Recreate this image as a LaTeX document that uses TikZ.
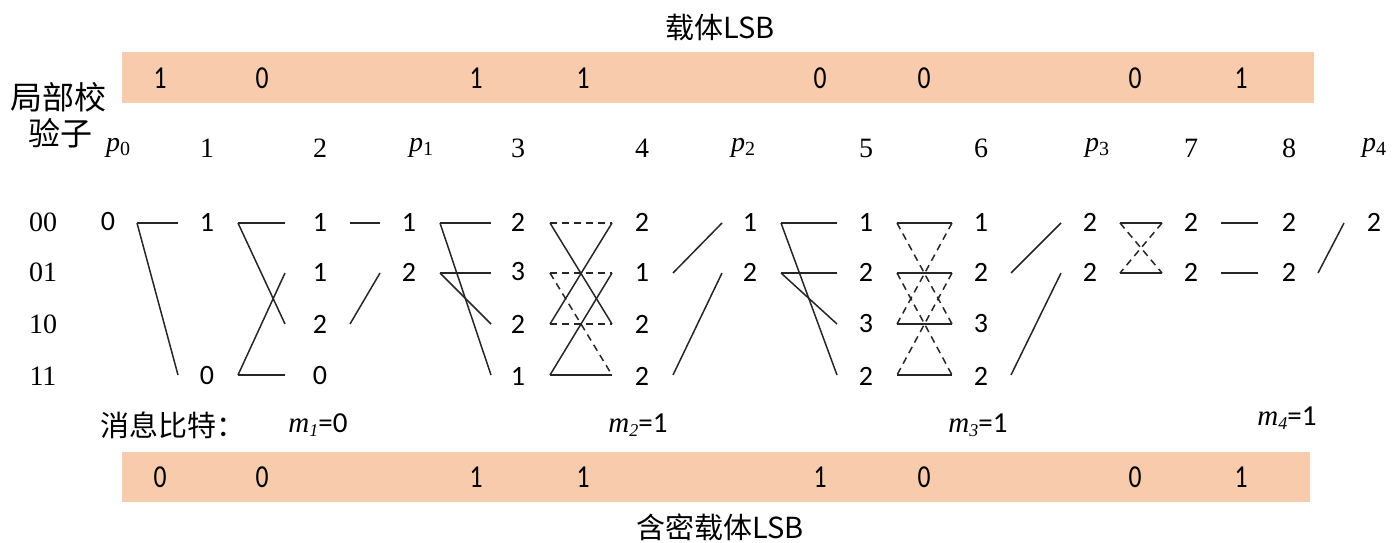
\documentclass[tikz,border=0pt]{standalone}
\usepackage{fontspec}
\setmainfont{Carlito}
\newfontfamily\cjk{Noto Sans CJK SC}
\newfontfamily\serifrow{Liberation Serif}
\newcommand{\pp}[1]{{\itshape p}\raisebox{-0.3ex}{\fontsize{20}{20}\selectfont #1}}
\newcommand{\mm}[2]{{\serifrow\itshape m}\raisebox{-0.3ex}{\fontsize{18}{18}\selectfont\serifrow\itshape #1}=#2}
\begin{document}
\begin{tikzpicture}[x=1pt,y=-1pt,
  edge/.style={line width=1.5pt,black!85},
  dedge/.style={edge,dash pattern=on 7pt off 5pt},
  val/.style={font=\fontsize{28}{28}\selectfont,inner sep=0pt,anchor=center},
  hdr/.style={font=\serifrow\fontsize{28}{28}\selectfont,inner sep=0pt,anchor=center},
  rowlab/.style={font=\serifrow\fontsize{28}{28}\selectfont,inner sep=0pt},
  bardig/.style={font=\fontsize{32}{32}\selectfont,inner sep=0pt,xscale=0.8},
  cjktext/.style={font=\cjk\fontsize{29}{29}\selectfont,inner sep=0pt},
  msg/.style={font=\fontsize{29}{29}\selectfont,inner sep=0pt}]
\definecolor{peach}{HTML}{F8CBAD}
\path[use as bounding box] (0,0) rectangle (1394,543);
% bars
\fill[peach] (122,52) rectangle (1314,103);
\fill[peach] (122,452) rectangle (1310,502);
\node[cjktext] (t1) at (720,27) {载体LSB};
\node[cjktext] (t2) at (720,527) {含密载体LSB};
\foreach \x/\d [count=\i] in {160/1,262/0,476/1,583/1,820/0,924/0,1135/0,1241/1}
  \node[bardig] (tb\i) at (\x,78) {\d};
\foreach \x/\d [count=\i] in {160/0,262/0,476/1,583/1,820/1,924/0,1135/0,1241/1}
  \node[bardig] (bb\i) at (\x,477) {\d};
% left label
\node[cjktext,font=\cjk\fontsize{32}{32}\selectfont] (lab1) at (58,97) {局部校};
\node[cjktext,font=\cjk\fontsize{32}{32}\selectfont] (lab2) at (60,133) {验子};
% headers
\foreach \x/\t [count=\i] in {118/\pp{0},207/1,320/2,421/\pp{1},518/3,642/4,743/\pp{2},866/5,981/6,1097/\pp{3},1191/7,1289/8,1374/\pp{4}}
  \node[hdr] (h\i) at (\x,148) {\t};
% row labels
\foreach \y/\t [count=\i] in {222/00,272/01,324/10,376/11}
  \node[rowlab] (r\i) at (43,\y) {\t};
% values
\foreach \x/\y/\v/\n in {
  108/222/0/v0a,
  207/222/1/v1a, 207/376/0/v1d,
  320/222/1/v2a, 320/272/1/v2b, 320/324/2/v2c, 320/376/0/v2d,
  409/222/1/vp1a, 409/272/2/vp1b,
  518/222/2/v3a, 518/272/3/v3b, 518/324/2/v3c, 518/376/1/v3d,
  642/222/2/v4a, 642/272/1/v4b, 642/324/2/v4c, 642/376/2/v4d,
  750/222/1/vp2a, 750/272/2/vp2b,
  866/222/1/v5a, 866/272/2/v5b, 866/324/3/v5c, 866/376/2/v5d,
  981/222/1/v6a, 981/272/2/v6b, 981/324/3/v6c, 981/376/2/v6d,
  1090/222/2/vp3a, 1090/272/2/vp3b,
  1191/222/2/v7a, 1191/272/2/v7b,
  1289/222/2/v8a, 1289/272/2/v8b,
  1374/222/2/vp4a}
  \node[val] (\n) at (\x,\y) {\v};
% connector end coordinates
\foreach \g/\xl/\xr in {A/137/178,B/238/285,C/350/380,D/440/491,E/550/612,F/673/722,G/781/837,H/897/952,I/1011/1061,J/1120/1162,K/1221/1258,L/1318/1344}
  \foreach \r/\y in {1/223,2/273,3/324,4/375}{
    \coordinate (\g l\r) at (\xl,\y);
    \coordinate (\g r\r) at (\xr,\y);}
% A
\draw[edge] (Al1) -- (Ar1); \draw[edge] (Al1) -- (Ar4);
% B
\draw[edge] (Bl1) -- (Br1); \draw[edge] (Bl1) -- (Br3);
\draw[edge] (Bl4) -- (Br2); \draw[edge] (Bl4) -- (Br4);
% C
\draw[edge] (Cl1) -- (Cr1); \draw[edge] (Cl3) -- (Cr2);
% D
\draw[edge] (Dl1) -- (Dr1); \draw[edge] (Dl1) -- (Dr4);
\draw[edge] (Dl2) -- (Dr2); \draw[edge] (Dl2) -- (Dr3);
% E
\draw[dedge] (El1) -- (Er1); \draw[edge] (El1) -- (Er3); \draw[edge] (Er1) -- (El3);
\draw[dedge] (El2) -- (Er2); \draw[dedge] (El2) -- (Er4); \draw[edge] (Er2) -- (El4);
\draw[dedge] (El3) -- (Er3); \draw[edge] (El4) -- (Er4);
% F
\draw[edge] (Fl2) -- (Fr1); \draw[edge] (Fl4) -- (Fr2);
% G
\draw[edge] (Gl1) -- (Gr1); \draw[edge] (Gl1) -- (Gr4);
\draw[edge] (Gl2) -- (Gr2); \draw[edge] (Gl2) -- (Gr3);
% H
\foreach \r in {1,2,3,4} \draw[edge] (Hl\r) -- (Hr\r);
\draw[dedge] (Hl1) -- (Hr3); \draw[dedge] (Hr1) -- (Hl3);
\draw[dedge] (Hl2) -- (Hr4); \draw[dedge] (Hr2) -- (Hl4);
% I
\draw[edge] (Il2) -- (Ir1); \draw[edge] (Il4) -- (Ir2);
% J
\draw[edge] (Jl1) -- (Jr1); \draw[edge] (Jl2) -- (Jr2);
\draw[dedge] (Jl1) -- (Jr2); \draw[dedge] (Jr1) -- (Jl2);
% K
\draw[edge] (Kl1) -- (Kr1); \draw[edge] (Kl2) -- (Kr2);
% L
\draw[edge] (Ll2) -- (Lr1);
% message bits
\node[cjktext,anchor=west] (msgl) at (100,425) {消息比特：};
\node[msg] (m1) at (318,425) {\mm{1}{0}};
\node[msg] (m2) at (638,425) {\mm{2}{1}};
\node[msg] (m3) at (978,425) {\mm{3}{1}};
\node[msg] (m4) at (1287,418) {\mm{4}{1}};
\end{tikzpicture}
\end{document}
